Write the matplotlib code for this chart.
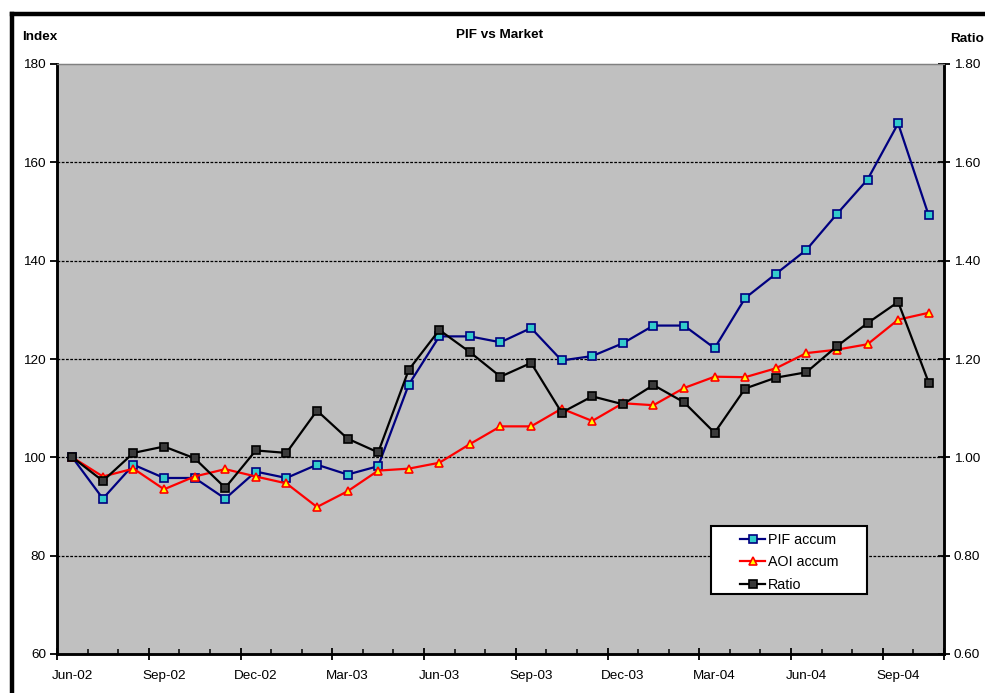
import matplotlib
matplotlib.use("Agg")
import matplotlib.pyplot as plt
from matplotlib.lines import Line2D
from matplotlib.patches import Rectangle
from matplotlib.ticker import FixedLocator, FuncFormatter

plt.rcParams['font.family'] = ['Liberation Sans', 'DejaVu Sans']

months = ["Jun-02", "Jul-02", "Aug-02", "Sep-02", "Oct-02", "Nov-02", "Dec-02",
          "Jan-03", "Feb-03", "Mar-03", "Apr-03", "May-03", "Jun-03", "Jul-03",
          "Aug-03", "Sep-03", "Oct-03", "Nov-03", "Dec-03", "Jan-04", "Feb-04",
          "Mar-04", "Apr-04", "May-04", "Jun-04", "Jul-04", "Aug-04", "Sep-04",
          "Oct-04"]

pif_accum = [100.0, 91.6, 98.5, 95.8, 95.8, 91.6, 97.1, 95.8, 98.5, 96.5,
             98.2, 114.8, 124.6, 124.6, 123.4, 126.3, 119.7, 120.6, 123.2,
             126.8, 126.8, 122.2, 132.4, 137.3, 142.2, 149.5, 156.5, 167.9,
             149.2]

aoi_accum = [100.0, 96.1, 97.7, 93.5, 96.1, 97.6, 96.1, 94.7, 89.9, 93.1,
             97.3, 97.7, 98.9, 102.7, 106.3, 106.3, 109.9, 107.4, 111.0,
             110.6, 114.1, 116.4, 116.3, 118.1, 121.2, 121.9, 123.0, 128.0,
             129.4]

ratio = [1.000, 0.952, 1.009, 1.022, 0.998, 0.938, 1.014, 1.009, 1.095, 1.038,
         1.010, 1.178, 1.259, 1.214, 1.164, 1.192, 1.091, 1.124, 1.108, 1.147,
         1.112, 1.050, 1.140, 1.162, 1.173, 1.226, 1.273, 1.316, 1.152]

tick_labels = ["Jun-02", "Sep-02", "Dec-02", "Mar-03", "Jun-03", "Sep-03",
               "Dec-03", "Mar-04", "Jun-04", "Sep-04"]

index_ticks = [60, 80, 100, 120, 140, 160, 180]
ratio_ticks = [0.60, 0.80, 1.00, 1.20, 1.40, 1.60, 1.80]

W, H = 985, 693
fig = plt.figure(figsize=(W / 100, H / 100), dpi=100)
fig.patch.set_facecolor('white')

ax = fig.add_axes([57 / W, 1 - 654 / H, (944 - 57) / W, (654 - 64) / H])
ax.set_facecolor('#C0C0C0')
ax2 = ax.twinx()

x = list(range(len(months)))
n = len(months)

# index series on the left axis
ax.plot(x, pif_accum, color='#000080', lw=1.6, marker='s', ms=5.2,
        mfc='#33CCCC', mec='#000080', mew=1.2, zorder=4, label='PIF accum')
ax.plot(x, aoi_accum, color='#FF0000', lw=1.6, marker='^', ms=5.5,
        mfc='#FFFF00', mec='#FF0000', mew=1.2, zorder=4, label='AOI accum')

# ratio on the right axis
ax2.plot(x, ratio, color='black', lw=1.6, marker='s', ms=5.2,
         mfc='#3a3a3a', mec='black', mew=1.2, zorder=4, label='Ratio')

ax.set_xlim(-0.5, n - 0.5)
ax.set_ylim(index_ticks[0], index_ticks[-1])
ax2.set_ylim(ratio_ticks[0], ratio_ticks[-1])

# dashed gridlines
for v in index_ticks[1:-1]:
    ax.axhline(v, color='black', lw=0.9, ls=(0, (2.2, 1.2)), zorder=1)

# category axis: ticks between months, labels every quarter
label_pos = [months.index(t) for t in tick_labels]
ax.xaxis.set_major_locator(FixedLocator([p - 0.5 for p in label_pos] + [n - 0.5]))
ax.xaxis.set_minor_locator(FixedLocator([i - 0.5 for i in range(n + 1)]))
ax.set_xticklabels([])
ax.tick_params(axis='x', which='major', direction='inout', length=9, width=1.3,
               color='black')
ax.tick_params(axis='x', which='minor', direction='in', length=3.5, width=1.1,
               color='black')
for p, t in zip(label_pos, tick_labels):
    ax.text(p, -0.038, t, transform=ax.get_xaxis_transform(), ha='center',
            va='center', fontsize=9.7)

ax.set_yticks(index_ticks)
ax.set_yticklabels([str(v) for v in index_ticks])
ax.tick_params(axis='y', direction='out', length=5, width=1.3, labelsize=9.7,
               pad=3)
ax2.set_yticks(ratio_ticks)
ax2.yaxis.set_major_formatter(FuncFormatter(lambda v, p: f"{v:.2f}"))
ax2.tick_params(axis='y', direction='inout', length=8, width=1.3,
                labelsize=9.7, pad=3)

for a in (ax, ax2):
    a.spines['left'].set_linewidth(1.8)
    a.spines['right'].set_linewidth(1.8)
    a.spines['bottom'].set_linewidth(1.8)
    a.spines['top'].set_color('#808080')
    a.spines['top'].set_linewidth(0.9)
    a.spines['top'].set_linestyle((0, (2, 1)))

# titles
fig.text(22 / W, 1 - 37 / H, 'Index', fontsize=9.7, fontweight='bold',
         ha='left', va='center')
fig.text(500 / W, 1 - 35 / H, 'PIF vs Market', fontsize=9.7,
         fontweight='bold', ha='center', va='center')
fig.text(984 / W, 1 - 39 / H, 'Ratio', fontsize=9.7, fontweight='bold',
         ha='right', va='center')

# outer chart frame
fig.add_artist(Line2D([12 / W, 12 / W], [0, 1 - 13.5 / H], color='black',
                      lw=3.2, transform=fig.transFigure))
fig.add_artist(Line2D([12 / W, 1], [1 - 13.5 / H, 1 - 13.5 / H],
                      color='black', lw=3.2, transform=fig.transFigure))

# legend box
fig.add_artist(Rectangle((711 / W, 1 - 594 / H), (867 - 711) / W,
                         (594 - 526) / H, transform=fig.transFigure,
                         facecolor='white', edgecolor='black', lw=1.5,
                         zorder=5))
handles = ax.get_lines()[:2] + ax2.get_lines()[:1]
leg = fig.legend(handles, [h.get_label() for h in handles],
                 loc='upper left', bbox_to_anchor=(734 / W, 1 - 527 / H),
                 frameon=False, fontsize=10.3, handlelength=1.8,
                 handletextpad=0.15, labelspacing=0.6, borderpad=0.4,
                 borderaxespad=0)
leg.set_zorder(6)

fig.savefig('out.png', dpi=100, facecolor='white')
